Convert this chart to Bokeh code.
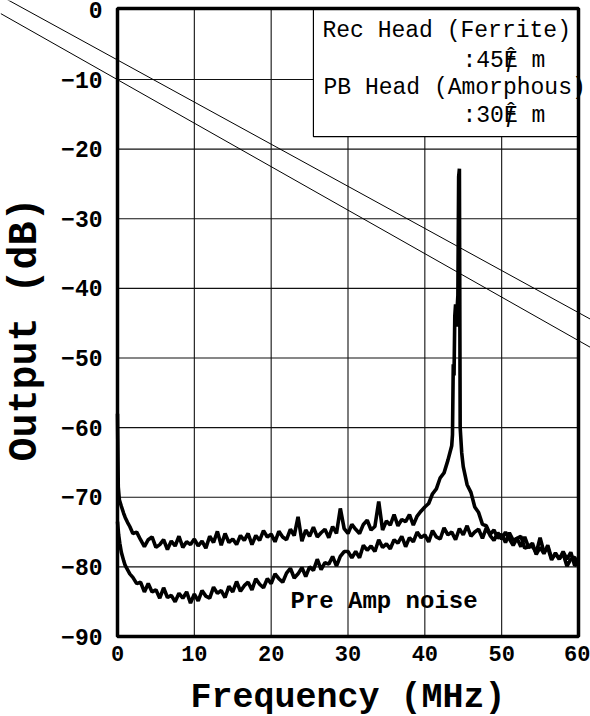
from bokeh.plotting import figure
from bokeh.models import FixedTicker, Label, BoxAnnotation, Range1d
from bokeh.embed import file_html
from bokeh.resources import INLINE

# ---------------- data ----------------
x_ticks = [0, 10, 20, 30, 40, 50, 60]
y_ticks = [-90, -80, -70, -60, -50, -40, -30, -20, -10, 0]
x_grid = [10, 20, 30, 40, 50]
y_grid = [-80, -70, -60, -50, -40, -30, -20, -10]

# Pre-amp noise only (lower trace)
freq_preamp = [0.0, 0.15, 0.3, 0.5, 0.8, 1.0, 1.3, 1.6,
               2.0, 2.5, 3.0, 3.5, 4.0, 4.5, 5.0, 5.5, 6.0, 6.5, 7.0, 7.5, 8.0, 8.5, 9.0, 9.5,
               10.0, 10.5, 11.0, 11.5, 12.0, 12.5, 13.0, 13.5, 14.0, 14.5,
               15.0, 15.5, 16.0, 16.5, 17.0, 17.5, 18.0, 18.5, 19.0, 19.5,
               20.0, 20.5, 21.0, 21.5, 22.0, 22.5, 23.0, 23.5, 24.0, 24.5,
               25.0, 25.5, 26.0, 26.5, 27.0, 27.5, 28.0, 28.5, 29.0, 29.5,
               30.0, 30.5, 31.0, 31.5, 32.0, 32.5, 33.0, 33.5, 34.0, 34.5,
               35.0, 35.5, 36.0, 36.5, 37.0, 37.5, 38.0, 38.5, 39.0, 39.5,
               40.0, 40.5, 41.0, 41.5, 42.0, 42.5, 43.0, 43.5, 44.0, 44.5,
               45.0, 45.5, 46.0, 46.5, 47.0, 47.5, 48.0, 48.5, 49.0, 49.5,
               50.0, 50.5, 51.0, 51.5, 52.0, 52.5, 53.0, 53.5, 54.0, 54.5,
               55.0, 55.5, 56.0, 56.5, 57.0, 57.5, 58.0, 58.5, 59.0, 59.5, 60.0]
db_preamp = [-73.5, -75.4, -76.6, -77.9, -79.1, -79.8, -80.4, -81.0,
             -81.5, -82.4, -82.2, -83.6, -82.4, -83.6, -83.3, -84.5, -83.0, -84.4, -84.1, -85.0, -83.8, -84.5, -83.6, -85.2,
             -83.9, -84.9, -83.4, -84.2, -84.5, -82.9, -83.8, -83.4, -84.4, -82.8,
             -83.6, -82.1, -83.5, -82.7, -82.2, -83.3, -81.7, -82.5, -83.0, -81.7,
             -82.4, -81.0, -81.7, -82.2, -80.9, -80.2, -81.6, -81.0, -80.1, -81.4,
             -80.0, -80.5, -78.9, -80.4, -79.4, -79.6, -78.5, -79.9, -78.5, -77.8,
             -77.8, -78.7, -77.8, -78.7, -76.9, -77.6, -77.0, -77.8, -76.1, -77.2,
             -76.7, -77.4, -76.1, -76.6, -75.6, -77.1, -75.8, -76.4, -75.0, -75.8,
             -75.4, -76.4, -74.8, -75.7, -76.0, -74.4, -75.4, -75.0, -76.1, -74.5,
             -75.4, -74.1, -75.6, -75.0, -74.6, -75.9, -74.4, -75.5, -76.2, -75.1,
             -76.0, -75.0, -76.0, -76.9, -75.9, -75.6, -77.3, -77.1, -76.6, -78.2,
             -77.2, -78.1, -76.9, -78.8, -78.2, -78.8, -78.1, -79.9, -78.9, -78.6, -79.8]

# Rec + PB heads (upper trace, with the 44.5 MHz carrier)
freq_rec = [0.0, 0.1, 0.25, 0.5, 0.8, 1.0, 1.3, 1.6,
            2.0, 2.5, 3.0, 3.5, 4.0, 4.5, 5.0, 5.5, 6.0, 6.5, 7.0, 7.5, 8.0, 8.5, 9.0, 9.5,
            10.0, 10.5, 11.0, 11.5, 12.0, 12.5, 13.0, 13.5, 14.0, 14.5,
            15.0, 15.5, 16.0, 16.5, 17.0, 17.5, 18.0, 18.5, 19.0, 19.5,
            20.0, 20.5, 21.0, 21.5, 22.0, 22.5, 23.0, 23.5, 24.0, 24.5,
            25.0, 25.5, 26.0, 26.5, 27.0, 27.5, 28.0, 28.5, 29.0, 29.5,
            30.0, 30.5, 31.0, 31.5, 32.0, 32.5, 33.0, 33.5, 34.0, 34.5,
            35.0, 35.5, 36.0, 36.5, 37.0, 37.5, 38.0, 38.5, 39.0, 39.5,
            40.0, 40.5, 41.0, 41.5, 42.0, 42.5, 43.0, 43.5,
            43.6, 43.7, 43.8, 43.9, 44.0, 44.1, 44.2, 44.3, 44.4, 44.5, 44.6, 44.8,
            45.0, 45.5, 46.0, 46.5, 47.0, 47.5, 48.0, 48.5, 49.0, 49.5,
            50.0, 50.5, 51.0, 51.5, 52.0, 52.5, 53.0, 53.5, 54.0, 54.5,
            55.0, 55.5, 56.0, 56.5, 57.0, 57.5, 58.0, 58.5, 59.0, 59.5, 60.0]
db_rec = [-58.0, -68.5, -70.4, -71.3, -72.3, -72.9, -73.6, -74.2,
          -75.2, -75.0, -76.1, -77.1, -76.1, -75.7, -77.2, -76.8, -76.1, -77.5, -76.3, -77.0, -75.6, -77.2, -76.4, -76.8,
          -76.0, -77.0, -76.3, -77.3, -75.6, -76.5, -74.9, -76.9, -75.2, -76.5,
          -76.0, -76.8, -75.5, -76.2, -75.2, -76.8, -75.5, -76.2, -74.8, -75.7,
          -75.3, -76.4, -74.9, -75.7, -76.1, -74.6, -75.5, -72.8, -76.3, -74.7,
          -75.6, -74.3, -75.7, -75.1, -74.6, -75.8, -74.2, -75.2, -71.6, -74.5,
          -75.2, -73.9, -74.6, -75.2, -73.9, -73.3, -74.7, -74.2, -70.6, -74.7,
          -73.4, -74.0, -72.5, -74.1, -73.2, -73.5, -72.5, -74.0, -72.7, -72.0,
          -71.4, -70.9, -69.5, -68.8, -67.2, -66.5, -64.7, -62.6,
          -61.0, -50.9, -52.5, -44.0, -42.3, -45.5, -43.0, -41.0, -24.0, -22.8, -60.0, -63.6,
          -65.6, -68.2, -69.3, -71.4, -72.2, -73.9, -74.1, -75.3, -74.7, -75.9,
          -75.3, -76.5, -75.1, -76.2, -75.9, -77.1, -75.7, -77.2, -77.0, -78.0,
          -75.8, -77.9, -77.2, -79.0, -78.0, -78.9, -77.8, -78.9, -77.9, -79.8, -79.4]

# two straight reference lines (running past the frame)
ref_freq = [-15.2, 61.6]
ref_upper_db = [2.0, -44.45]
ref_lower_db = [-0.53, -48.5]

legend_box = dict(left=25.5, right=60.0, bottom=-18.2, top=0.2)
legend_lines = ["Rec Head (Ferrite)", ":45\u0192 m", "PB Head (Amorphous)", ":30\u0192 m"]
legend_x = [26.68, 44.9, 26.81, 44.9]
legend_y = [-2.96, -7.27, -11.15, -15.31]
noise_label = "Pre Amp noise"

MONO = "Liberation Mono"

# The frame spans the whole canvas so the reference lines can run past the
# drawn box; the axes are pinned to x=0 and y=-90 with fixed_location.
p = figure(width=590, height=716, output_backend="svg", toolbar_location=None,
           x_range=Range1d(-15.228, 61.562), y_range=Range1d(-101.49, 1.35),
           min_border=0, background_fill_color="white", border_fill_color="white")
p.outline_line_color = None
p.grid.visible = False

p.xaxis.ticker = FixedTicker(ticks=x_ticks)
p.yaxis.ticker = FixedTicker(ticks=y_ticks)
p.xaxis.fixed_location = y_ticks[0]
p.yaxis.fixed_location = x_ticks[0]
p.xaxis.bounds = (x_ticks[0], x_ticks[-1])
p.yaxis.bounds = (-92, 0.2)

for ax in (p.xaxis, p.yaxis):
    ax.axis_line_color = None
    ax.major_tick_line_color = None
    ax.minor_tick_line_color = None
    ax.major_tick_out = 0
    ax.major_tick_in = 0
    ax.major_label_text_font = MONO
    ax.major_label_text_font_style = "bold"
    ax.major_label_text_color = "black"
    ax.axis_label_text_font = MONO
    ax.axis_label_text_font_style = "bold"
    ax.axis_label_text_color = "black"

p.xaxis.major_label_text_font_size = "22px"
p.yaxis.major_label_text_font_size = "23px"
p.xaxis.major_label_standoff = 9
p.yaxis.major_label_standoff = 15
p.xaxis.axis_label = "Frequency (MHz)"
p.yaxis.axis_label = "Output (dB)"
p.xaxis.axis_label_text_font_size = "35px"
p.yaxis.axis_label_text_font_size = "40px"
p.xaxis.axis_label_standoff = 14
p.yaxis.axis_label_standoff = 10

# grid lines limited to the drawn box
p.segment(x0=x_grid, y0=[y_ticks[0]] * len(x_grid), x1=x_grid, y1=[0.2] * len(x_grid),
          line_color="#111111", line_width=1.1)
p.segment(x0=[x_ticks[0]] * len(y_grid), y0=y_grid, x1=[x_ticks[-1]] * len(y_grid), y1=y_grid,
          line_color="#111111", line_width=1.1)

# reference straight lines
p.line(ref_freq, ref_upper_db, line_color="black", line_width=1)
p.line(ref_freq, ref_lower_db, line_color="black", line_width=1)

# traces
p.line(freq_preamp, db_preamp, line_color="black", line_width=3.6)
p.line(freq_rec, db_rec, line_color="black", line_width=3.6)

# legend-like box
p.add_layout(BoxAnnotation(fill_color="white", fill_alpha=1.0, line_color="black", line_width=1.2,
                           line_alpha=1.0, **legend_box))
for txt, lx, ly in zip(legend_lines, legend_x, legend_y):
    p.add_layout(Label(x=lx, y=ly, text=txt, text_font=MONO, text_font_size="23px",
                       text_baseline="middle", text_align="left", text_color="black"))
# the garbled micro sign is drawn as overlapping glyphs
for lx, ly in ((legend_x[1], legend_y[1]), (legend_x[3], legend_y[3])):
    p.add_layout(Label(x=lx, y=ly, x_offset=3 * 0.6 * 23, text="\u00ca", text_font=MONO,
                       text_font_size="23px", text_baseline="middle", text_align="left",
                       text_color="black"))

p.add_layout(Label(x=22.5, y=-84.98, text=noise_label, text_font=MONO, text_font_style="bold",
                   text_font_size="24px", text_baseline="middle", text_align="left",
                   text_color="black"))

# thick frame of the chart area
p.add_layout(BoxAnnotation(left=x_ticks[0], right=x_ticks[-1], bottom=y_ticks[0], top=0.2,
                           fill_alpha=0.0, line_color="black", line_width=3.5, line_alpha=1.0))

open("out.html", "w").write(file_html(p, INLINE))
